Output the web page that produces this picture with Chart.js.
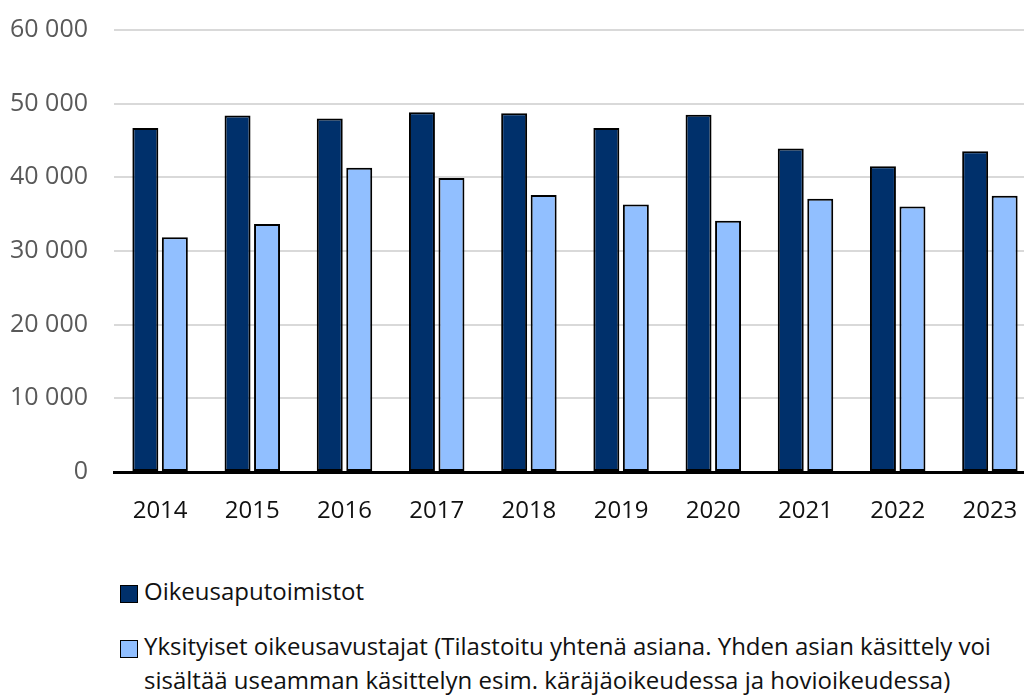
<!DOCTYPE html>
<html>
<head>
<meta charset="utf-8">
<script src="https://cdn.jsdelivr.net/npm/chart.js@4"></script>
<style>
  body { margin: 0; background: #fff; overflow: hidden; width: 1024px; height: 696px; }
  #wrap { position: absolute; left: 0; top: -11px; width: 1040px; height: 552px; }
  #legend { position: absolute; left: 120px; top: 574px; font-family: "Open Sans", sans-serif; font-size: 24px; color: #111; }
  .item { display: flex; align-items: flex-start; margin-bottom: 21px; }
  .box { width: 16px; height: 16px; border: 1px solid #000; margin-top: 11px; margin-right: 6px; flex: none; }
  .txt { line-height: 34px; width: 880px; }
</style>
</head>
<body>
<div id="wrap"><canvas id="barChart"></canvas></div>
<div id="legend"></div>
<script>
const years = ['2014', '2015', '2016', '2017', '2018', '2019', '2020', '2021', '2022', '2023'];
const toimistot = [46700, 48400, 48000, 48850, 48700, 46700, 48500, 43900, 41500, 43550];
const yksityiset = [31850, 33650, 41300, 39900, 37600, 36300, 34100, 37100, 36050, 37500];
const yTicks = [0, 10000, 20000, 30000, 40000, 50000, 60000];

const fmt = v => String(v).replace(/\B(?=(\d{3})+(?!\d))/g, ' ');

const ctx = document.getElementById('barChart');

const chart = new Chart(ctx, {
    type: 'bar',
    data: {
        labels: years,
        datasets: [{
            label: 'Oikeusaputoimistot',
            data: toimistot,
            backgroundColor: '#00306b',
            borderColor: '#000',
            borderWidth: 2,
            borderSkipped: false,
            categoryPercentage: 0.64,
            barPercentage: 0.88
        }, {
            label: 'Yksityiset oikeusavustajat (Tilastoitu yhtenä asiana. Yhden asian käsittely voi sisältää useamman käsittelyn esim. käräjäoikeudessa ja hovioikeudessa)',
            data: yksityiset,
            backgroundColor: '#91bfff',
            borderColor: '#000',
            borderWidth: 2,
            borderSkipped: false,
            categoryPercentage: 0.64,
            barPercentage: 0.88
        }]
    },
    options: {
        responsive: true,
        maintainAspectRatio: false,
        animation: false,
        layout: { padding: { top: 18, right: 4, left: 0, bottom: 0 } },
        plugins: {
            legend: { display: false },
            tooltip: { enabled: false }
        },
        scales: {
            x: {
                grid: { display: false },
                border: { display: true, color: '#000', width: 3 },
                ticks: {
                    color: '#111',
                    padding: 17,
                    font: { family: 'Open Sans', size: 24 }
                },
                afterFit: s => { s.height = 69; }
            },
            y: {
                min: 0,
                max: 60000,
                afterBuildTicks: s => { s.ticks = yTicks.map(v => ({ value: v })); },
                grid: { color: '#d9d9d9', lineWidth: 2, drawTicks: false },
                border: { display: false },
                ticks: {
                    color: '#595959',
                    padding: 26,
                    font: { family: 'Open Sans', size: 25 },
                    callback: v => fmt(v)
                },
                afterFit: s => { s.width = 114; }
            }
        }
    }
});

// legend built from the datasets
const legend = document.getElementById('legend');
chart.data.datasets.forEach(ds => {
    const item = document.createElement('div');
    item.className = 'item';
    const box = document.createElement('span');
    box.className = 'box';
    box.style.background = ds.backgroundColor;
    const txt = document.createElement('span');
    txt.className = 'txt';
    txt.textContent = ds.label;
    item.appendChild(box);
    item.appendChild(txt);
    legend.appendChild(item);
});
</script>
</body>
</html>
